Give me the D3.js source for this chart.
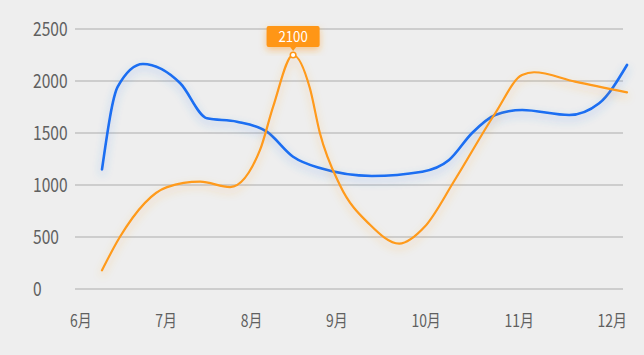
<!DOCTYPE html>
<html><head><meta charset="utf-8">
<script src="https://cdn.jsdelivr.net/npm/d3@7"></script>
<style>
html,body{margin:0;padding:0;background:#eeeeee;}
svg{display:block;}
</style></head>
<body>
<svg id="chart" width="644" height="355"></svg>
<script>
// ---- data ----
const monthLabels = ["6月","7月","8月","9月","10月","11月","12月"];
const yTicks = [0, 500, 1000, 1500, 2000, 2500];
// positions along the x span (0 = first point, 100 = last point)
const blueX = [0, 3.0, 7.8, 14.9, 20.0, 25.7, 31.4, 36.4, 41.5, 51.4, 61.0, 66.1, 70.5, 74.9, 80.0, 89.0, 94.7, 100];
const blueY = [1150, 1945, 2163, 1978, 1641, 1609, 1513, 1272, 1163, 1087, 1128, 1240, 1500, 1673, 1721, 1673, 1786, 2154];
const orangeX = [0, 3.4, 12.4, 18.7, 24.4, 30.1, 32.6, 36.4, 39.6, 41.5, 45.3, 51.0, 56.6, 61.5, 67.2, 74.9, 80.0, 82.3, 90.1, 100];
const orangeY = [180, 500, 980, 1032, 980, 1337, 1753, 2250, 1930, 1500, 1000, 620, 436, 600, 1048, 1690, 2058, 2084, 1994, 1891];
const tipIndex = 7;        // orange point with the label
const tipLabel = "2100";

// ---- layout ----
const svg = d3.select("#chart");
const W = 644, H = 355;
svg.append("rect").attr("width", W).attr("height", H).attr("fill", "#eeeeee");

const x = d3.scaleLinear().domain([0, 100]).range([102, 627]);
const y = d3.scaleLinear().domain([0, 2500]).range([289, 29]);
const gridLeft = 75, gridRight = 623;
const sx = 0.82; // horizontal squash of text

const defs = svg.append("defs");
function glow(id, color, op, sd, dy) {
  const f = defs.append("filter").attr("id", id)
    .attr("x", "-20%").attr("y", "-40%").attr("width", "140%").attr("height", "180%");
  f.append("feDropShadow").attr("dx", 0).attr("dy", dy).attr("stdDeviation", sd)
    .attr("flood-color", color).attr("flood-opacity", op);
}
glow("gBlue", "#3a86f5", 0.4, 4.5, 4);
glow("gOrange", "#ffa030", 0.4, 4.5, 4);
glow("gTip", "#ff9a1a", 0.5, 3.5, 3);

// grid
svg.append("g").selectAll("line").data(yTicks).join("line")
  .attr("x1", gridLeft).attr("x2", gridRight)
  .attr("y1", d => y(d)).attr("y2", d => y(d))
  .attr("stroke", "#c2c2c2").attr("stroke-width", 1.4);

// y labels (left aligned)
svg.append("g").selectAll("text").data(yTicks).join("text")
  .attr("transform", d => `translate(33,${y(d)}) scale(${sx},1)`)
  .attr("dy", "0.36em")
  .attr("font-family", "'Noto Sans CJK SC','Noto Sans',sans-serif")
  .attr("font-size", 19).attr("fill", "#606060")
  .text(d => d);

// x labels laid out with equal gaps between them
const xg = svg.append("g");
const xt = xg.selectAll("text").data(monthLabels).join("text")
  .attr("font-family", "'Noto Sans CJK SC','Noto Sans',sans-serif")
  .attr("font-size", 17).attr("fill", "#606060")
  .text(d => d);
const widths = [];
xt.each(function(){ widths.push(this.getComputedTextLength() * sx); });
const spanL = 70, spanR = 627;
const gap = (spanR - spanL - d3.sum(widths)) / (monthLabels.length - 1);
let cur = spanL;
xt.each(function(d, i){
  d3.select(this).attr("transform", `translate(${cur},327) scale(${sx},1)`);
  cur += widths[i] + gap;
});

// lines
const line = d3.line().x(d => x(d[0])).y(d => y(d[1])).curve(d3.curveMonotoneX);
const blue = blueX.map((v, i) => [v, blueY[i]]);
const orange = orangeX.map((v, i) => [v, orangeY[i]]);

svg.append("path").datum(blue).attr("d", line)
  .attr("fill", "none").attr("stroke", "#1a6ef2").attr("stroke-width", 2.6)
  .attr("stroke-linecap", "round").attr("filter", "url(#gBlue)");
svg.append("path").datum(orange).attr("d", line)
  .attr("fill", "none").attr("stroke", "#ff9a1a").attr("stroke-width", 2.2)
  .attr("stroke-linecap", "round").attr("filter", "url(#gOrange)");

// tooltip on orange point
const px = x(orangeX[tipIndex]), py = y(orangeY[tipIndex]);
const tip = svg.append("g");
const tw = 53, th = 21, tgap = 8;
tip.append("rect")
  .attr("x", px - tw / 2).attr("y", py - tgap - th)
  .attr("width", tw).attr("height", th).attr("rx", 2)
  .attr("fill", "#ff9614").attr("filter", "url(#gTip)");
tip.append("path")
  .attr("d", `M${px-3},${py - tgap} L${px+3},${py - tgap} L${px},${py - tgap + 4} Z`)
  .attr("fill", "#ff9614");
tip.append("text")
  .attr("transform", `translate(${px},${py - tgap - th / 2}) scale(0.88,1)`)
  .attr("text-anchor", "middle").attr("dy", "0.36em")
  .attr("font-family", "'Noto Sans CJK SC','Noto Sans',sans-serif")
  .attr("font-size", 15).attr("fill", "#ffffff")
  .text(tipLabel);
tip.append("circle").attr("cx", px).attr("cy", py).attr("r", 2.8)
  .attr("fill", "#ffffff").attr("stroke", "#ff9614").attr("stroke-width", 1.5);
</script>
</body></html>
